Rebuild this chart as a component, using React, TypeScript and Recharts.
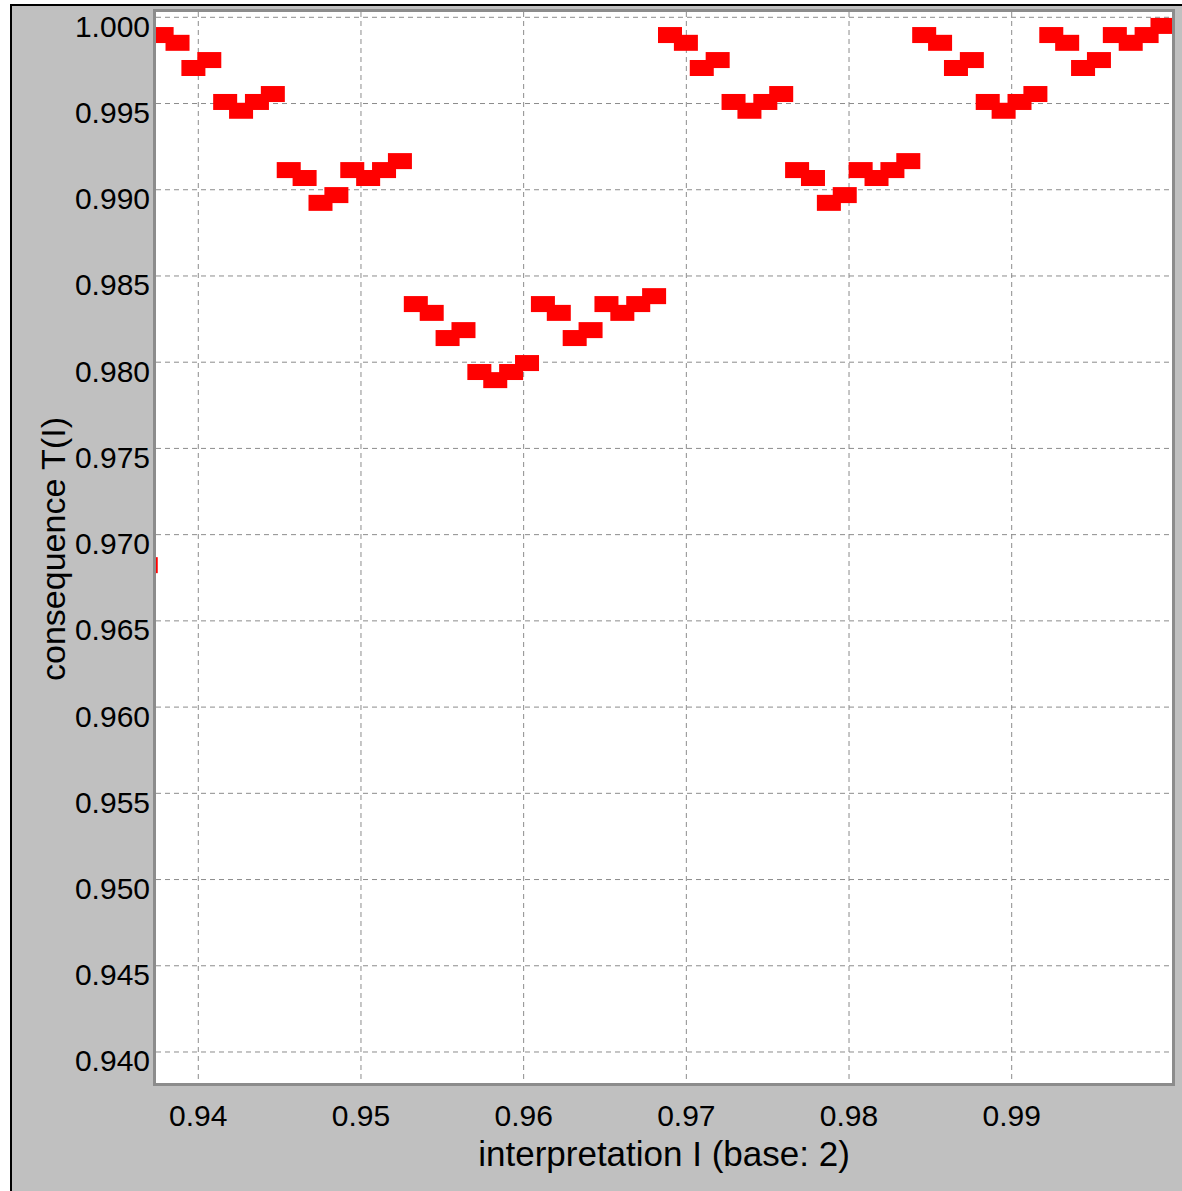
import { CartesianGrid, Scatter, ScatterChart, XAxis, YAxis } from "recharts";

// interpretation I (base 2), one point per 1/1024 step
const interpretation = [
  0.936523, 0.9375, 0.938477, 0.939453, 0.94043, 0.941406, 0.942383, 0.943359,
  0.944336, 0.945313, 0.946289, 0.947266, 0.948242, 0.949219, 0.950195, 0.951172,
  0.952148, 0.953125, 0.954102, 0.955078, 0.956055, 0.957031, 0.958008, 0.958984,
  0.959961, 0.960938, 0.961914, 0.962891, 0.963867, 0.964844, 0.96582, 0.966797,
  0.967773, 0.96875, 0.969727, 0.970703, 0.97168, 0.972656, 0.973633, 0.974609,
  0.975586, 0.976563, 0.977539, 0.978516, 0.979492, 0.980469, 0.981445, 0.982422,
  0.983398, 0.984375, 0.985352, 0.986328, 0.987305, 0.988281, 0.989258, 0.990234,
  0.991211, 0.992188, 0.993164, 0.994141, 0.995117, 0.996094, 0.99707, 0.998047,
  0.999023,
];

// consequence T(I)
const consequence = [
  0.96823,
  0.99897, 0.99852, 0.99706, 0.99752, 0.99509, 0.99458, 0.99509, 0.99555,
  0.99114, 0.99068, 0.98924, 0.98969, 0.99114, 0.99068, 0.99114, 0.99166,
  0.98337, 0.98286, 0.9814, 0.98186, 0.97943, 0.97896, 0.97943, 0.97995,
  0.98337, 0.98286, 0.9814, 0.98186, 0.98337, 0.98286, 0.98337, 0.98383,
  0.99897, 0.99852, 0.99706, 0.99752, 0.99509, 0.99458, 0.99509, 0.99555,
  0.99114, 0.99068, 0.98924, 0.98969, 0.99114, 0.99068, 0.99114, 0.99166,
  0.99897, 0.99852, 0.99706, 0.99752, 0.99509, 0.99458, 0.99509, 0.99555,
  0.99897, 0.99852, 0.99706, 0.99752, 0.99897, 0.99852, 0.99897, 0.9995,
];

const xTicks = [0.94, 0.95, 0.96, 0.97, 0.98, 0.99];
const yTicks = [
  0.94, 0.945, 0.95, 0.955, 0.96, 0.965, 0.97, 0.975, 0.98, 0.985, 0.99, 0.995, 1.0,
];

const FONT = '"Liberation Sans", Arial, Helvetica, sans-serif';

const rows = interpretation.map((x, i) => ({ x, y: consequence[i] }));

// wide flat marker, a bit right of the point like the original plot
const Block = (props: any) => {
  const { cx, cy } = props;
  if (cx == null || cy == null) return null;
  return <rect x={cx - 8} y={cy - 8} width={24} height={16} fill="#ff0000" />;
};

const YTick = (props: any) => (
  <text x={150} y={props.y + 19.5} textAnchor="end" fontSize={30} fontFamily={FONT} fill="#000">
    {Number(props.payload.value).toFixed(3)}
  </text>
);

const XTick = (props: any) => (
  <text x={props.x} y={1126} textAnchor="middle" fontSize={30} fontFamily={FONT} fill="#000">
    {Number(props.payload.value).toFixed(2)}
  </text>
);

export default function App() {
  return (
    <div style={{ position: "absolute", left: 0, top: 0, width: 1182, height: 1191, background: "#fff", overflow: "hidden" }}>
      <div
        style={{
          position: "absolute",
          left: 10,
          top: 4,
          right: 0,
          bottom: 0,
          background: "#c0c0c0",
          borderLeft: "2px solid #000",
          borderTop: "2px solid #000",
        }}
      />
      <div
        style={{
          position: "absolute",
          left: 153,
          top: 9,
          width: 1022,
          height: 1077,
          boxSizing: "border-box",
          border: "3px solid #8c8c8c",
          background: "#fff",
        }}
      />
      <div style={{ position: "absolute", left: 0, top: 0 }}>
        <ScatterChart width={1182} height={1191} margin={{ top: 12, right: 10, bottom: 0, left: 0 }}>
          <CartesianGrid
            stroke="#8c8c8c"
            strokeDasharray="5 4"
            horizontalValues={yTicks}
            verticalValues={xTicks}
          />
          <XAxis
            type="number"
            dataKey="x"
            domain={[0.9374, 0.999854]}
            allowDataOverflow
            ticks={xTicks}
            tick={XTick}
            tickLine={false}
            axisLine={false}
            height={108}
          />
          <YAxis
            type="number"
            dataKey="y"
            domain={[0.938202, 1.000307]}
            allowDataOverflow
            ticks={yTicks}
            tick={YTick}
            tickLine={false}
            axisLine={false}
            width={156}
          />
          <Scatter data={rows} shape={Block} isAnimationActive={false} />
        </ScatterChart>
      </div>
      <svg width={1182} height={1191} style={{ position: "absolute", left: 0, top: 0, pointerEvents: "none" }}>
        <text x={664} y={1166} textAnchor="middle" fontSize={35} fontFamily={FONT} fill="#000">
          interpretation I (base: 2)
        </text>
        <text
          transform="translate(65,549) rotate(-90)"
          textAnchor="middle"
          fontSize={34}
          fontFamily={FONT}
          fill="#000"
        >
          consequence T(I)
        </text>
      </svg>
    </div>
  );
}
